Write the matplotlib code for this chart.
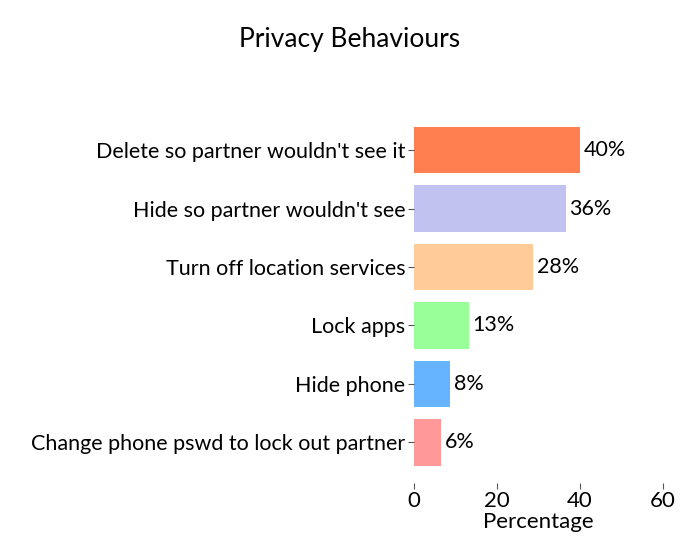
import matplotlib
matplotlib.use("Agg")
import matplotlib.pyplot as plt

plt.rcParams["font.family"] = ["Lato", "DejaVu Sans"]

behaviours = [
    "Change phone pswd to lock out partner",
    "Hide phone",
    "Lock apps",
    "Turn off location services",
    "Hide so partner wouldn't see",
    "Delete so partner wouldn't see it",
]
percent = [6.5, 8.8, 13.3, 28.8, 36.6, 40.1]
percent_labels = ["6%", "8%", "13%", "28%", "36%", "40%"]
colors = ["#ff9999", "#66b3ff", "#99ff99", "#ffcc99", "#c2c2f0", "#ff7f50"]

fig = plt.figure(figsize=(7, 5.6), dpi=100)
ax = fig.add_axes([0.591, 0.138, 0.356, 0.666])

bars = ax.barh(behaviours, percent, color=colors, height=0.8)
for bar, lab in zip(bars, percent_labels):
    ax.text(bar.get_width() + 0.9, bar.get_y() + bar.get_height() / 2, lab,
            va="center", ha="left", fontsize=15.5)

ax.set_xlim(0, 60)
ax.set_xticks([0, 20, 40, 60])
ax.set_xlabel("Percentage", fontsize=16, labelpad=1)
ax.tick_params(axis="y", labelsize=15.5, length=4, pad=2, color="#555555")
ax.tick_params(axis="x", labelsize=16, length=4, pad=2, color="#555555")
for s in ax.spines.values():
    s.set_visible(False)

fig.suptitle("Privacy Behaviours", fontsize=19, x=0.5, y=0.952)

fig.savefig("out.png", dpi=100)
